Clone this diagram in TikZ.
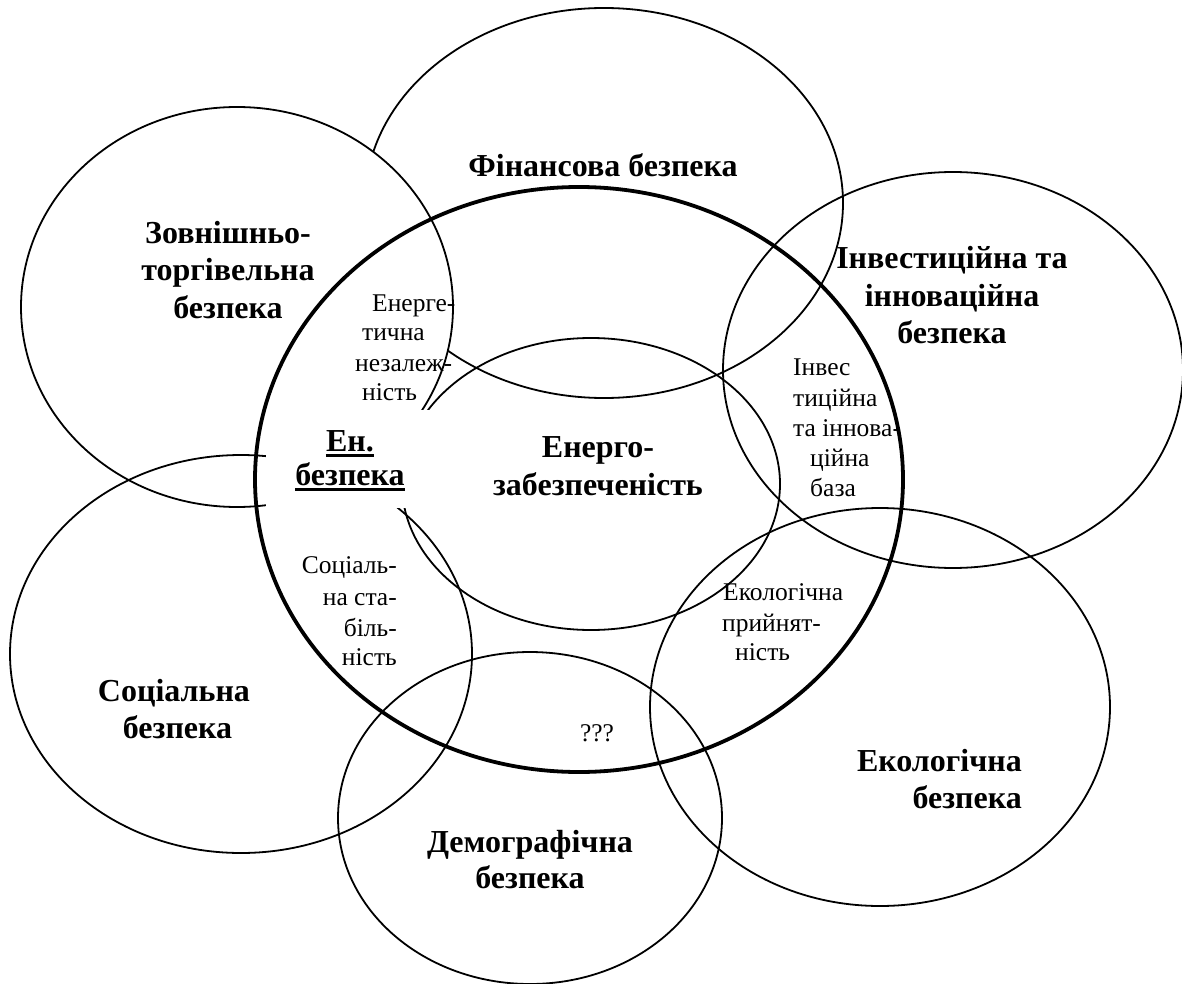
\documentclass[tikz,border=0pt]{standalone}
\usepackage{fontspec}
\setmainfont{Liberation Serif}
\begin{document}
\begin{tikzpicture}[x=1pt,y=-1pt,
  ring/.style={draw=black,line width=1.8pt},
  mainring/.style={draw=black,line width=3.8pt},
  bigtxt/.style={font=\fontsize{32}{38}\selectfont\bfseries,inner sep=0pt},
  smalltxt/.style={font=\fontsize{25.5}{30}\selectfont,inner sep=0pt},
  ulrule/.style={draw=black,line width=3pt}]
\path[use as bounding box,fill=white] (0,0) rectangle (1182,984);
% ellipses
\draw[ring] (604,203) ellipse [x radius=239pt,y radius=195pt];
\draw[ring,fill=white] (237,307) ellipse [x radius=216pt,y radius=200pt];
\draw[ring] (241,654) ellipse [x radius=231pt,y radius=199pt];
\draw[ring] (591,484) ellipse [x radius=189pt,y radius=146pt];
\draw[ring] (953,370) ellipse [x radius=230pt,y radius=198pt];
\draw[ring] (880,707) ellipse [x radius=230pt,y radius=199pt];
\draw[ring] (530,818) ellipse [x radius=192pt,y radius=166pt];
% white box behind "En. bezpeka"
\node[fill=white,inner sep=0pt,minimum width=178pt,minimum height=98pt] (enbox) at (355,459) {};
\draw[mainring] (579,479.5) ellipse [x radius=324pt,y radius=292.5pt];
% big labels
\node[bigtxt,anchor=base] (fin) at (603,176.7) {Фінансова безпека};
\node[bigtxt,anchor=base] (zt1) at (228,243.3) {Зовнішньо-};
\node[bigtxt,anchor=base] (zt2) at (228,280.5) {торгівельна};
\node[bigtxt,anchor=base] (zt3) at (228,318) {безпека};
\node[bigtxt,anchor=base] (inv1) at (952,269) {Інвестиційна та};
\node[bigtxt,anchor=base] (inv2) at (952,306.5) {інноваційна};
\node[bigtxt,anchor=base] (inv3) at (952,343.5) {безпека};
\node[bigtxt,anchor=base] (enz1) at (598,457.3) {Енерго-};
\node[bigtxt,anchor=base] (enz2) at (598,495) {забезпеченість};
\node[bigtxt,anchor=base] (en1) at (350,451.7) {Ен.};
\node[bigtxt,anchor=base] (en2) at (350,485) {безпека};
\draw[ulrule] ([yshift=-3.5pt]en1.base west) -- ([yshift=-3.5pt]en1.base east);
\draw[ulrule] ([yshift=-4pt]en2.base west) -- ([yshift=-4pt]en2.base east);
\node[bigtxt,anchor=base] (soc1) at (174,701) {Соціальна};
\node[bigtxt,anchor=base] (soc2) at (177.5,738) {безпека};
\node[bigtxt,anchor=base] (dem1) at (530,852) {Демографічна};
\node[bigtxt,anchor=base] (dem2) at (530,888.5) {безпека};
\node[bigtxt,anchor=base east] (eco1) at (1022,771.7) {Екологічна};
\node[bigtxt,anchor=base east] (eco2) at (1022,808.3) {безпека};
% small labels
\node[smalltxt,anchor=base west] (ez1) at (372,311.7) {Енерге-};
\node[smalltxt,anchor=base west] (ez2) at (362,340) {тична};
\node[smalltxt,anchor=base west] (ez3) at (355,371.7) {незалеж-};
\node[smalltxt,anchor=base west] (ez4) at (362,400.7) {ність};
\node[smalltxt,anchor=base east] (ss1) at (397,573) {Соціаль-};
\node[smalltxt,anchor=base east] (ss2) at (397,605) {на ста-};
\node[smalltxt,anchor=base east] (ss3) at (397,636) {біль-};
\node[smalltxt,anchor=base east] (ss4) at (397,665) {ність};
\node[smalltxt,anchor=base west] (ib1) at (793,375) {Інвес};
\node[smalltxt,anchor=base west] (ib2) at (793,406) {тиційна};
\node[smalltxt,anchor=base west] (ib3) at (793,436.7) {та іннова-};
\node[smalltxt,anchor=base west] (ib4) at (810,466.7) {ційна};
\node[smalltxt,anchor=base west] (ib5) at (810,496.7) {база};
\node[smalltxt,anchor=base west] (ep1) at (723,600.7) {Екологічна};
\node[smalltxt,anchor=base west] (ep2) at (722,631.7) {прийнят-};
\node[smalltxt,anchor=base west] (ep3) at (735,660.7) {ність};
\node[smalltxt,anchor=base] (qqq) at (597,741) {???};
\end{tikzpicture}
\end{document}
